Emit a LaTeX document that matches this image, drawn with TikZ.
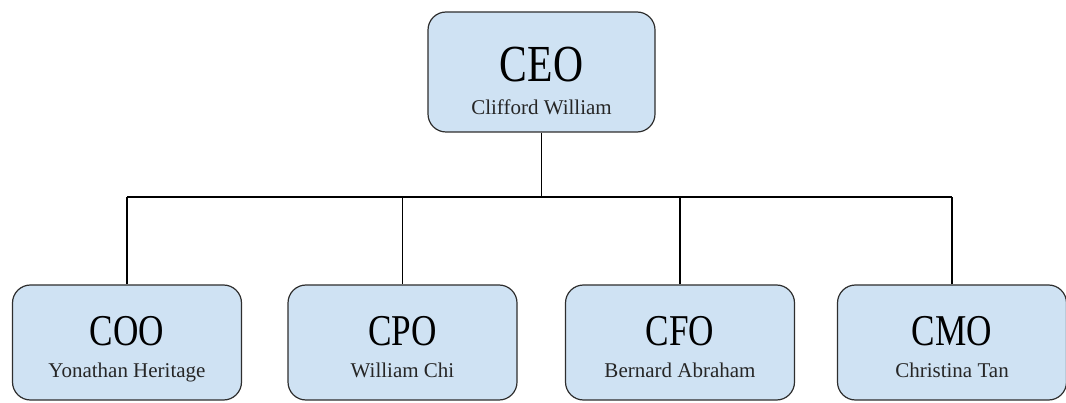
\documentclass[tikz,border=0pt]{standalone}
\usepackage{fontspec}
\setmainfont{Liberation Serif}
\newfontfamily\titlefont{Liberation Serif}[FakeStretch=0.8]
\usepackage{tikz}
\definecolor{postblue}{HTML}{CFE2F3}
\definecolor{postline}{HTML}{2E2E2E}
\definecolor{nametext}{HTML}{262626}
\tikzstyle{post}=[
        draw=postline,
        fill=postblue,
        line width=1.2pt,
        rounded corners=18pt,
        minimum width=229pt,
        minimum height=115pt,
        inner sep=0pt
]
\tikzstyle{chief}=[
        post,
        minimum width=227pt,
        minimum height=120pt
]
\tikzstyle{title}=[
        anchor=base,
        inner sep=0pt,
        font=\titlefont\fontsize{44}{44}\selectfont
]
\tikzstyle{holder}=[
        anchor=base,
        inner sep=0pt,
        text=nametext,
        font=\fontsize{21}{21}\selectfont
]
\tikzstyle{link}=[
        line width=1.3pt
]

\begin{document}
\begin{tikzpicture}[x=1pt,y=1pt]
                        \useasboundingbox (0,0) rectangle (1066,402);

                        \node[chief] (ceo) at (541.5,330) {};
                        \node[title, font=\titlefont\fontsize{52}{52}\selectfont] (ceo title) at ([yshift=-10pt]ceo.center) {CEO};
                        \node[holder] (ceo name) at ([yshift=-43pt]ceo.center) {Clifford William};

                        \foreach \x/\id/\t/\n in {127/coo/COO/Yonathan Heritage,
                                                  402.5/cpo/CPO/William Chi,
                                                  680/cfo/CFO/Bernard Abraham,
                                                  952/cmo/CMO/Christina Tan} {
                            \node[post] (\id) at (\x,59.5) {};
                            \node[title] (\id title) at ([yshift=-2.5pt]\id.center) {\t};
                            \node[holder] (\id name) at ([yshift=-34.5pt]\id.center) {\n};
                        }

                        \coordinate (bus) at (541.5,205);
                        \draw[link] (ceo) -- (bus);
                        \draw[link] (coo.north |- bus) -- (cmo.north |- bus);
                        \foreach \id in {coo,cpo,cfo,cmo} {
                            \draw[link] (\id) -- (\id.north |- bus);
                        }
                        
                    \end{tikzpicture}
\end{document}
